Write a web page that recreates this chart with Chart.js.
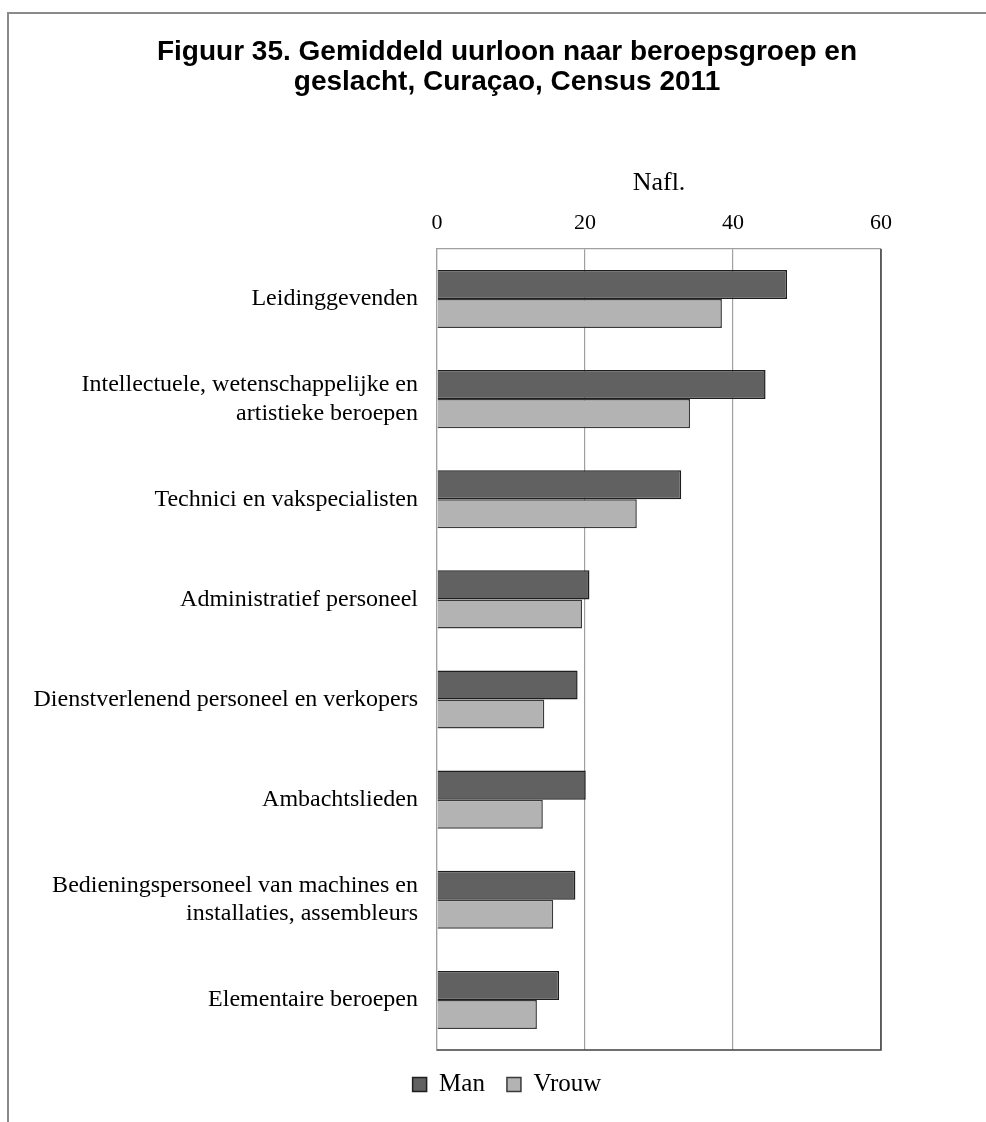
<!DOCTYPE html>
<html>
<head>
<meta charset="utf-8">
<script src="https://cdn.jsdelivr.net/npm/chart.js@4"></script>
<style>
    body { margin: 0; background: #fff; }
    #wrap { position: relative; width: 986px; height: 1122px; overflow: hidden; }
    #frame {
        position: absolute; left: 7px; top: 12px; width: 1200px; height: 1300px;
        border-left: 2px solid #8a8a8a; border-top: 2px solid #8a8a8a;
    }
    #chart { position: absolute; left: 0; top: 0; }
</style>
</head>
<body>
<div id="wrap">
    <div id="frame"></div>
    <canvas id="chart" width="1010" height="1122"></canvas>
</div>
<script>
const categories = [
    'Leidinggevenden',
    ['Intellectuele, wetenschappelijke en', 'artistieke beroepen'],
    'Technici en vakspecialisten',
    'Administratief personeel',
    'Dienstverlenend personeel en verkopers',
    'Ambachtslieden',
    ['Bedieningspersoneel van machines en', 'installaties, assembleurs'],
    'Elementaire beroepen'
];
const manValues = [47.3, 44.4, 33.0, 20.6, 19.0, 20.1, 18.7, 16.5];
const vrouwValues = [38.5, 34.2, 27.0, 19.6, 14.5, 14.3, 15.7, 13.5];
const xTicks = [0, 20, 40, 60];

document.addEventListener('DOMContentLoaded', () => {
    const serif = 'Liberation Serif, Times New Roman, serif';

    // right and bottom edge of the plot area are drawn darker
    const plotEdges = {
        id: 'plotEdges',
        afterDatasetsDraw(chart) {
            const { ctx, chartArea: a } = chart;
            ctx.save();
            ctx.strokeStyle = '#404040';
            ctx.lineWidth = 1.5;
            ctx.beginPath();
            ctx.moveTo(a.right, a.top);
            ctx.lineTo(a.right, a.bottom);
            ctx.lineTo(a.left, a.bottom);
            ctx.stroke();
            ctx.restore();
        }
    };

    const ctx = document.getElementById('chart').getContext('2d');
    new Chart(ctx, {
        type: 'bar',
        data: {
            labels: categories,
            datasets: [{
                label: 'Man',
                data: manValues,
                backgroundColor: '#616161',
                borderColor: '#1e1e1e',
                borderWidth: 1.5,
                borderSkipped: 'left'
            }, {
                label: 'Vrouw',
                data: vrouwValues,
                backgroundColor: '#b3b3b3',
                borderColor: '#3a3a3a',
                borderWidth: 1.5,
                borderSkipped: 'left'
            }]
        },
        options: {
            indexAxis: 'y',
            responsive: false,
            animation: false,
            categoryPercentage: 0.58,
            barPercentage: 1.0,
            layout: { padding: { left: 10, right: 6, top: 0, bottom: 15 } },
            plugins: {
                title: {
                    display: true,
                    text: ['Figuur 35. Gemiddeld uurloon naar beroepsgroep en', 'geslacht, Curaçao, Census 2011'],
                    color: '#000',
                    font: { family: 'Liberation Sans, Arial, sans-serif', size: 28, weight: 'bold', lineHeight: 1.07 },
                    padding: { top: 37, bottom: 58 }
                },
                legend: {
                    position: 'bottom',
                    labels: {
                        color: '#000',
                        font: { family: serif, size: 25 },
                        boxWidth: 14,
                        boxHeight: 14,
                        padding: 22
                    }
                },
                tooltip: { enabled: false }
            },
            scales: {
                x: {
                    position: 'top',
                    min: 0,
                    max: 60,
                    afterBuildTicks: (scale) => {
                        scale.ticks = xTicks.map(v => ({ value: v }));
                    },
                    afterFit: (scale) => { scale.height = 94; },
                    ticks: {
                        color: '#000',
                        font: { family: serif, size: 22 },
                        padding: 13
                    },
                    grid: { color: '#a0a0a0', lineWidth: 1.2, drawTicks: false },
                    border: { color: '#a0a0a0', width: 1.2 },
                    title: {
                        display: true,
                        text: 'Nafl.',
                        color: '#000',
                        font: { family: serif, size: 26 },
                        padding: { top: 13, bottom: 0 }
                    }
                },
                y: {
                    afterFit: (scale) => { scale.width = 427; },
                    ticks: {
                        color: '#000',
                        font: { family: serif, size: 24, lineHeight: 1.2 },
                        padding: 19
                    },
                    grid: { display: false, drawTicks: false },
                    border: { color: '#a0a0a0', width: 1.2 }
                },
                // empty box on the right so the plot ends at the same place as in the original
                spacer: {
                    type: 'category',
                    position: 'right',
                    afterFit: (scale) => { scale.width = 123; },
                    ticks: { display: false },
                    grid: { display: false, drawTicks: false },
                    border: { display: false }
                }
            }
        },
        plugins: [plotEdges]
    });
});
</script>
</body>
</html>
